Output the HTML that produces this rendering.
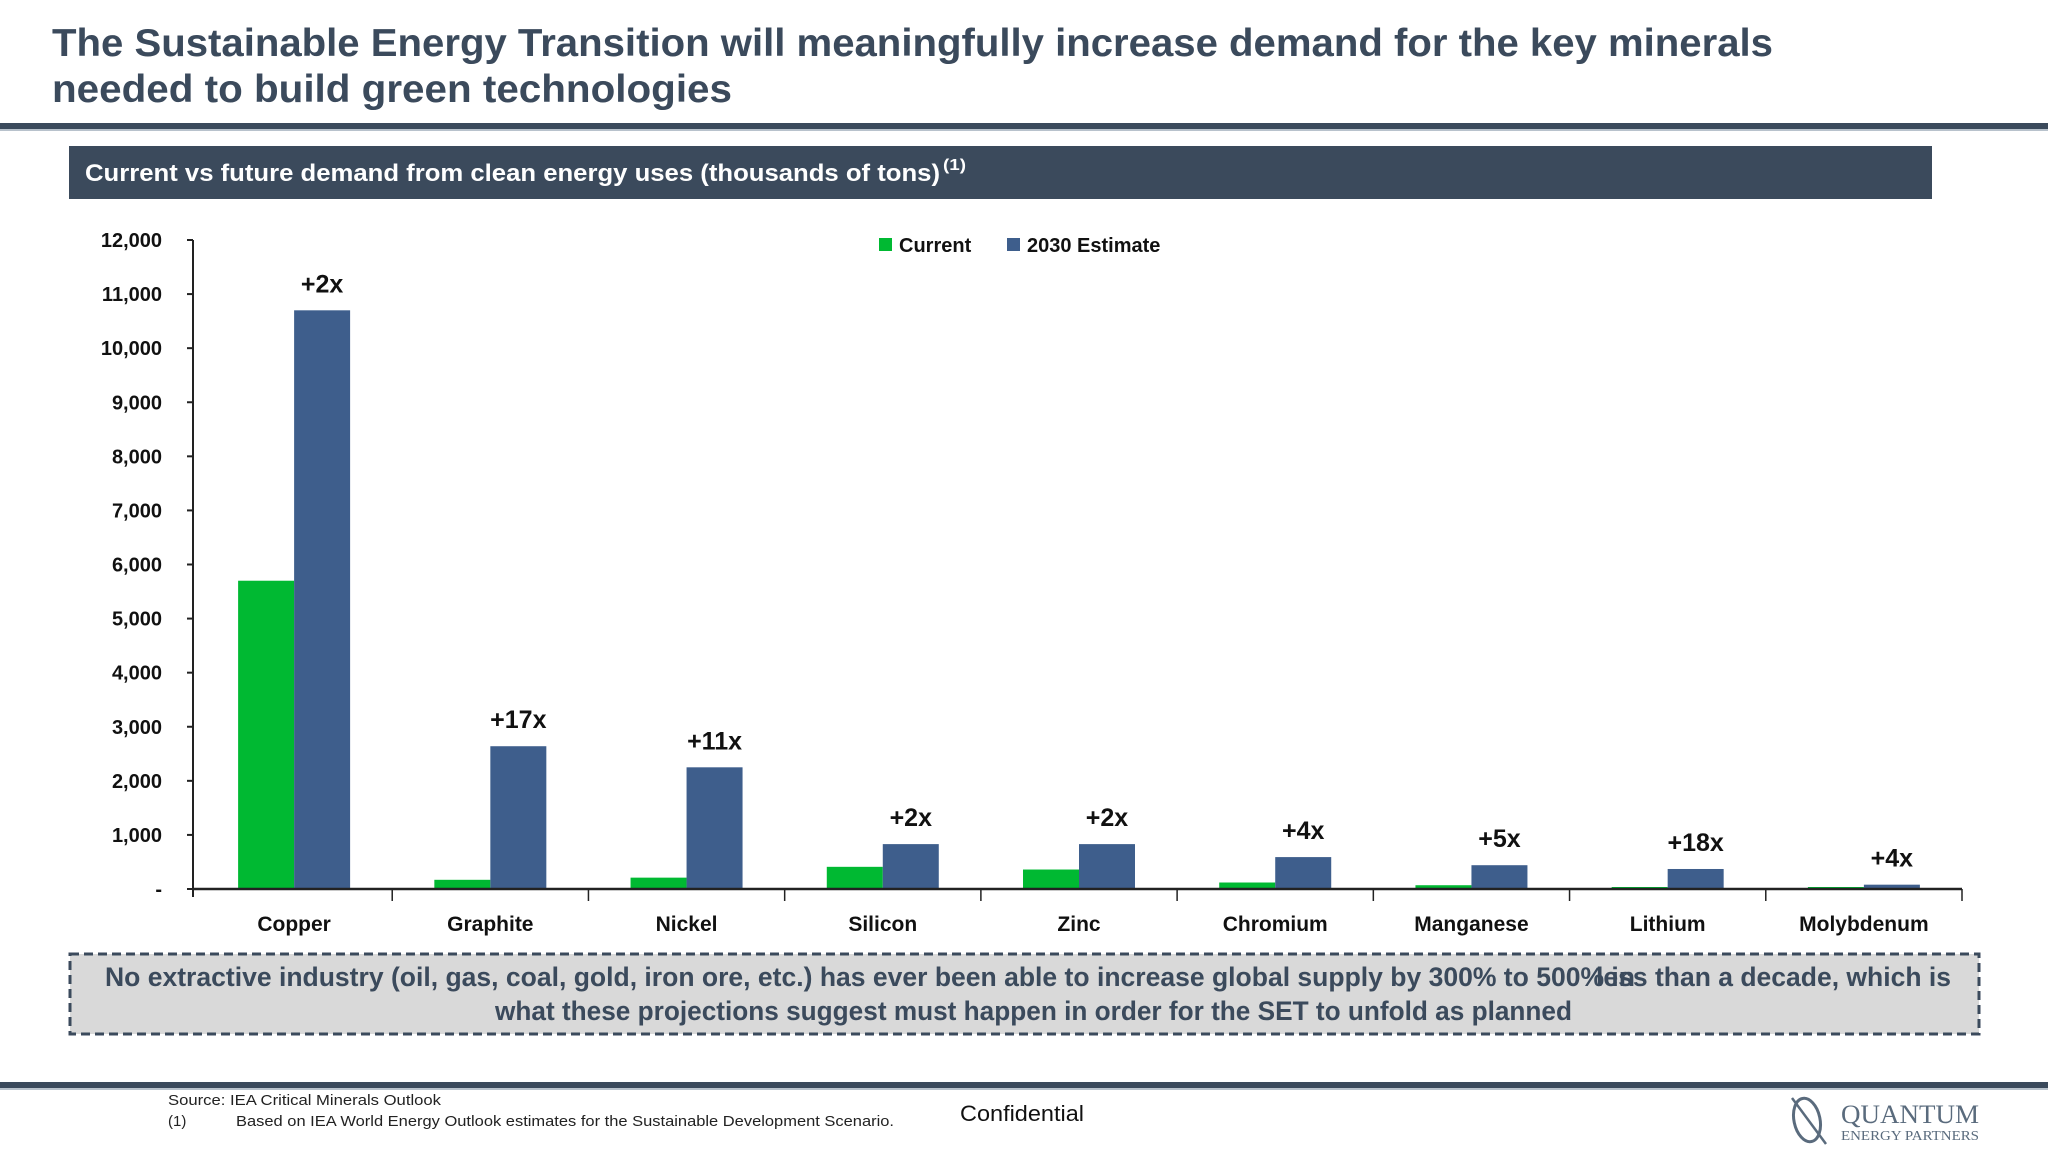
<!DOCTYPE html>
<html><head><meta charset="utf-8"><style>
html,body{margin:0;padding:0;background:#fff;}
svg{display:block;font-family:"Liberation Sans",sans-serif;}
</style></head><body>
<svg id="s" width="2048" height="1152" viewBox="0 0 2048 1152">
<g fill="#3b4a5c" font-weight="bold" font-size="39">
<text x="52" y="56" textLength="1721" lengthAdjust="spacingAndGlyphs">The Sustainable Energy Transition will meaningfully increase demand for the key minerals</text>
<text x="52" y="102" textLength="680" lengthAdjust="spacingAndGlyphs">needed to build green technologies</text>
</g>
<rect x="0" y="123" width="2048" height="6" fill="#3b4a5c"/>
<rect x="0" y="129" width="2048" height="2" fill="#b8c2cc"/>
<rect x="69" y="146" width="1863" height="53" fill="#3b4a5c"/>
<text x="85" y="181" fill="#fff" font-weight="bold" font-size="24" textLength="855" lengthAdjust="spacingAndGlyphs">Current vs future demand from clean energy uses (thousands of tons)</text>
<text x="943" y="170" fill="#fff" font-weight="bold" font-size="16" textLength="23" lengthAdjust="spacingAndGlyphs">(1)</text>
<g id="chart"></g>
<rect x="70" y="954" width="1909" height="80" fill="#d9d9d9" stroke="#3b4a5c" stroke-width="3" stroke-dasharray="9,5"/>
<g fill="#3b4a5c" font-weight="bold" font-size="27">
<text x="105" y="986" textLength="1530" lengthAdjust="spacingAndGlyphs">No extractive industry (oil, gas, coal, gold, iron ore, etc.) has ever been able to increase global supply by 300% to 500% in</text>
<text x="1596" y="986" textLength="355" lengthAdjust="spacingAndGlyphs">less than a decade, which is</text>
<text x="495" y="1020" textLength="1077" lengthAdjust="spacingAndGlyphs">what these projections suggest must happen in order for the SET to unfold as planned</text>
</g>
<rect x="0" y="1082" width="2048" height="6" fill="#3b4a5c"/>
<rect x="0" y="1088" width="2048" height="2" fill="#b8c2cc"/>
<g fill="#222" font-size="15">
<text x="168" y="1105" textLength="273" lengthAdjust="spacingAndGlyphs">Source: IEA Critical Minerals Outlook</text>
<text x="168" y="1126">(1)</text>
<text x="236" y="1126" textLength="658" lengthAdjust="spacingAndGlyphs">Based on IEA World Energy Outlook estimates for the Sustainable Development Scenario.</text>
</g>
<text x="960" y="1121" font-size="22" fill="#111" textLength="124" lengthAdjust="spacingAndGlyphs">Confidential</text>
<g>
<ellipse cx="1807" cy="1120" rx="13" ry="22" fill="none" stroke="#5a6b7d" stroke-width="3" transform="rotate(-12 1807 1120)"/>
<line x1="1792" y1="1098" x2="1826" y2="1144" stroke="#5a6b7d" stroke-width="2.5"/>
<text x="1841" y="1123" font-family="Liberation Serif,serif" font-size="26" fill="#5a6b7d" textLength="138" lengthAdjust="spacingAndGlyphs">QUANTUM</text>
<text x="1841" y="1140" font-family="Liberation Serif,serif" font-size="14" fill="#5a6b7d" textLength="138" lengthAdjust="spacingAndGlyphs">ENERGY PARTNERS</text>
</g>
</svg>
<script>
const categories=["Copper","Graphite","Nickel","Silicon","Zinc","Chromium","Manganese","Lithium","Molybdenum"];
const currentValues=[5700,170,210,410,360,120,70,20,20];
const estimateValues=[10700,2640,2250,830,830,590,440,370,80];
const multipliers=["+2x","+17x","+11x","+2x","+2x","+4x","+5x","+18x","+4x"];
const yTicks=[0,1000,2000,3000,4000,5000,6000,7000,8000,9000,10000,11000,12000];
const yTickLabels=["-","1,000","2,000","3,000","4,000","5,000","6,000","7,000","8,000","9,000","10,000","11,000","12,000"];
const seriesNames=["Current","2030 Estimate"];

const NS="http://www.w3.org/2000/svg";
const g=document.getElementById('chart');
const X0=196,X1=1962,AX=193,Y0=889,Ytop=240,YMAX=12000;
const band=(X1-X0)/categories.length, bw=56;
function y(v){return Y0-(v/YMAX)*(Y0-Ytop);}
function xc(i){return X0+band*(i+0.5);}
function h(v){return Math.max(2,Y0-y(v));}
function mk(tag,attrs){const e=document.createElementNS(NS,tag);for(const k in attrs)e.setAttribute(k,attrs[k]);g.appendChild(e);return e;}

let e=mk('line',{x1:AX,y1:Ytop,x2:AX,y2:Y0+8,stroke:'#222','stroke-width':2});


yTicks.forEach((t,i)=>{
  const l=mk('line',{x1:AX-6,y1:y(t),x2:AX,y2:y(t),stroke:'#222','stroke-width':2});
  
  
  const tx=mk('text',{x:162,y:y(t)+7,'text-anchor':'end','font-size':20,'font-weight':'bold',fill:'#111'});
  tx.textContent=yTickLabels[i];
  
  
});
for(let i=1;i<=categories.length;i++){
  const tk=mk('line',{x1:X0+band*i,y1:Y0,x2:X0+band*i,y2:Y0+12,stroke:'#222','stroke-width':1.5});
  
  
}
categories.forEach((c,i)=>{
  const cx=xc(i);
  const b1=mk('rect',{x:cx-bw,y:Y0-h(currentValues[i]),width:bw,height:h(currentValues[i]),fill:'#00b932'});
  
  
  const b2=mk('rect',{x:cx,y:Y0-h(estimateValues[i]),width:bw,height:h(estimateValues[i]),fill:'#3e5e8c'});
  
  
  const m=mk('text',{x:cx+bw/2,y:y(estimateValues[i])-18,'text-anchor':'middle','font-size':25,'font-weight':'bold',fill:'#111'});
  m.textContent=multipliers[i];
  
  
  const lb=mk('text',{x:cx,y:931,'text-anchor':'middle','font-size':21,'font-weight':'bold',fill:'#111'});
  lb.textContent=c;
  
  
});
e=mk('line',{x1:AX,y1:Y0,x2:X1,y2:Y0,stroke:'#222','stroke-width':2.5});


const legendColors=['#00b932','#3e5e8c'],legendX=[879,1007];
seriesNames.forEach((n,i)=>{
  const sq=mk('rect',{x:legendX[i],y:238,width:13,height:13,fill:legendColors[i]});
  
  
  const t=mk('text',{x:legendX[i]+20,y:252,'font-size':20,'font-weight':'bold',fill:'#111'});
  t.textContent=n;
  
  
});
</script>
</body></html>
